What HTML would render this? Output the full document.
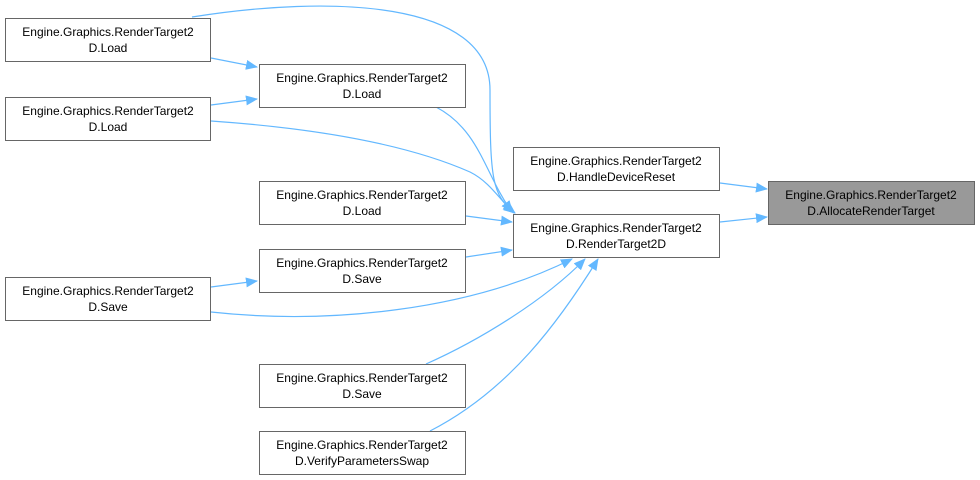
<!DOCTYPE html>
<html><head><meta charset="utf-8"><style>
body{margin:0;background:#fff;}
svg{display:block;}
text{font-family:"Liberation Sans",Arial,sans-serif;font-size:12px;fill:#000;}
</style></head><body>
<svg width="980" height="480" viewBox="0 0 980 480" xmlns="http://www.w3.org/2000/svg">
<defs><marker id="ah" markerWidth="12" markerHeight="10" refX="11" refY="5" orient="auto" markerUnits="userSpaceOnUse"><path d="M0,0 L12,5 L0,10 z" fill="#63b8ff"/></marker></defs>
<g fill="none" stroke="#63b8ff" stroke-width="1.2" marker-end="url(#ah)">
<path d="M720,183 L767,189"/>
<path d="M720,222 L767,217"/>
<path d="M211,58 L257,67"/>
<path d="M211,105 L257,99"/>
<path d="M192,17 C330,-5 490,0 490,90 C490,180 492,195 515,213"/>
<path d="M436,107 C480,130 485,175 512,212"/>
<path d="M211,121 C340,130 420,150 470,172 C490,182 500,200 514,213"/>
<path d="M466,216 L512,222"/>
<path d="M466,257 L512,250"/>
<path d="M211,312 C330,325 470,310 572,259"/>
<path d="M426,364 C480,340 545,300 585,259"/>
<path d="M430,431 C510,390 560,320 598,259"/>
<path d="M211,287 L257,281"/>
</g>
<g stroke="#666" stroke-width="1" fill="#fff">
<rect x="5.5" y="18.5" width="205" height="43"/>
<rect x="5.5" y="97.5" width="205" height="43"/>
<rect x="5.5" y="277.5" width="205" height="43"/>
<rect x="259.5" y="64.5" width="206" height="43"/>
<rect x="259.5" y="181.5" width="206" height="43"/>
<rect x="259.5" y="249.5" width="206" height="43"/>
<rect x="259.5" y="364.5" width="206" height="43"/>
<rect x="259.5" y="431.5" width="206" height="43"/>
<rect x="513.5" y="147.5" width="206" height="43"/>
<rect x="513.5" y="214.5" width="206" height="43"/>
<rect x="768.5" y="181.5" width="206" height="43" fill="#999"/>
</g>
<g text-anchor="middle">
<text x="108" y="36">Engine.Graphics.RenderTarget2</text><text x="108" y="52">D.Load</text>
<text x="108" y="115">Engine.Graphics.RenderTarget2</text><text x="108" y="131">D.Load</text>
<text x="108" y="295">Engine.Graphics.RenderTarget2</text><text x="108" y="311">D.Save</text>
<text x="362" y="82">Engine.Graphics.RenderTarget2</text><text x="362" y="98">D.Load</text>
<text x="362" y="199">Engine.Graphics.RenderTarget2</text><text x="362" y="215">D.Load</text>
<text x="362" y="267">Engine.Graphics.RenderTarget2</text><text x="362" y="283">D.Save</text>
<text x="362" y="382">Engine.Graphics.RenderTarget2</text><text x="362" y="398">D.Save</text>
<text x="362" y="449">Engine.Graphics.RenderTarget2</text><text x="362" y="465">D.VerifyParametersSwap</text>
<text x="616" y="165">Engine.Graphics.RenderTarget2</text><text x="616" y="181">D.HandleDeviceReset</text>
<text x="616" y="232">Engine.Graphics.RenderTarget2</text><text x="616" y="248">D.RenderTarget2D</text>
<text x="871" y="199">Engine.Graphics.RenderTarget2</text><text x="871" y="215">D.AllocateRenderTarget</text>
</g>
</svg>
</body></html>
